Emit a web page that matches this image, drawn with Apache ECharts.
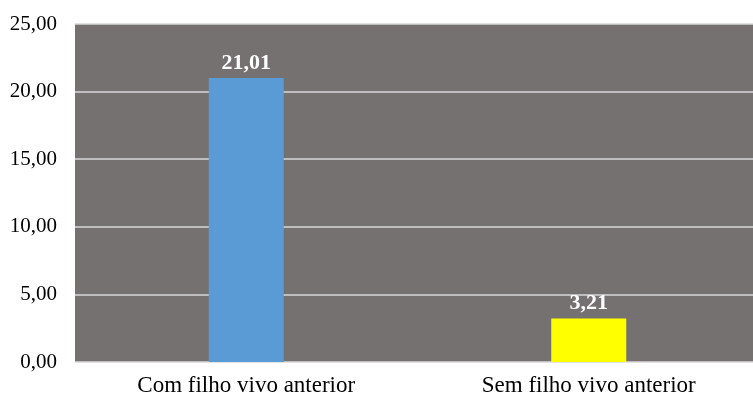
<!DOCTYPE html>
<html>
<head>
<meta charset="utf-8">
<script src="https://cdn.jsdelivr.net/npm/echarts@6/dist/echarts.min.js"></script>
<style>
  html, body { margin: 0; padding: 0; background: #ffffff; }
  #chart { width: 753px; height: 399px; }
</style>
</head>
<body>
<div id="chart"></div>
<script>
const categories = ['Com filho vivo anterior', 'Sem filho vivo anterior'];
const values = [21.01, 3.21];
const barColors = ['#5B9BD5', '#FFFF00'];
const yTicks = [0, 5, 10, 15, 20, 25];

const fmt = v => v.toFixed(2).replace('.', ',');
const serif = '"Liberation Serif", "Times New Roman", serif';

const chart = echarts.init(document.getElementById('chart'));
chart.setOption({
  animation: false,
  // plot area runs slightly past the right edge of the canvas
  grid: {
    left: 75, width: 685, top: 24, bottom: 37,
    containLabel: false, outerBoundsMode: 'none',
    backgroundColor: '#767171', show: true, borderWidth: 0
  },
  xAxis: {
    type: 'category',
    data: categories,
    axisLine: { show: false },
    axisTick: { show: false },
    axisLabel: { color: '#000', fontFamily: serif, fontSize: 23, margin: 12 }
  },
  yAxis: {
    type: 'value',
    min: yTicks[0],
    max: yTicks[yTicks.length - 1],
    interval: 5,
    axisLine: { show: false },
    axisTick: { show: false },
    axisLabel: { color: '#000', fontFamily: serif, fontSize: 21, margin: 18, formatter: v => fmt(v) },
    splitLine: { lineStyle: { color: '#D9D9D9', width: 1.5 } }
  },
  series: [{
    type: 'bar',
    barWidth: 75,
    data: values.map((v, i) => ({ value: v, itemStyle: { color: barColors[i] } })),
    label: {
      show: true,
      position: 'top',
      distance: 4,
      color: '#ffffff',
      fontFamily: serif,
      fontWeight: 'bold',
      fontSize: 22,
      formatter: p => fmt(p.value)
    }
  }]
});
</script>
</body>
</html>
